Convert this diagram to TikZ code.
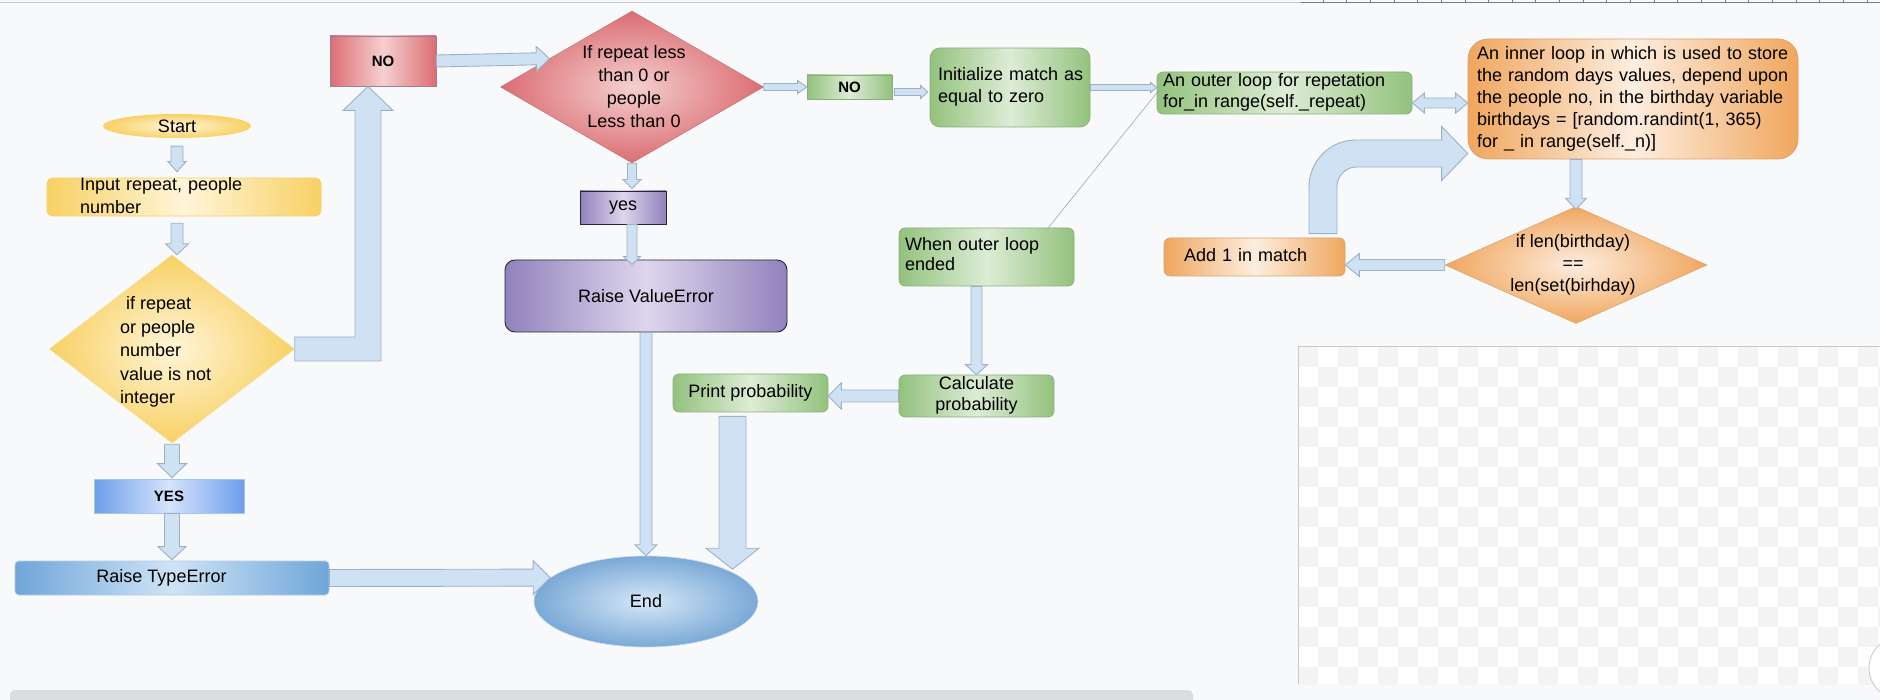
\documentclass[tikz,border=0pt]{standalone}
\usepackage{fontspec}
\setmainfont{Liberation Sans}
\usetikzlibrary{shapes.geometric,calc}
\definecolor{bg}{HTML}{F8F9FB}
\definecolor{afill}{HTML}{CFE2F3}
\definecolor{adraw}{HTML}{9DB1C6}
\definecolor{yEdge}{HTML}{F8D164}
\definecolor{yMid}{HTML}{FFF5D9}
\definecolor{rEdge}{HTML}{DB6E72}
\definecolor{rMid}{HTML}{F5CFD0}
\definecolor{rDraw}{HTML}{9A7F9C}
\definecolor{pEdge}{HTML}{9182BD}
\definecolor{pMid}{HTML}{DED6EC}
\definecolor{pDraw}{HTML}{2A2438}
\definecolor{gEdge}{HTML}{93C27D}
\definecolor{gMid}{HTML}{DDECD6}
\definecolor{gDraw}{HTML}{8BAE7C}
\definecolor{bEdge}{HTML}{6D9EEB}
\definecolor{bMid}{HTML}{D6E4FB}
\definecolor{tEdge}{HTML}{6FA6D9}
\definecolor{tMid}{HTML}{CFE3F5}
\definecolor{eOut}{HTML}{7AA9D6}
\definecolor{eIn}{HTML}{D6E7F7}
\definecolor{oEdge}{HTML}{F0A65E}
\definecolor{oMid}{HTML}{FDEEE0}
\definecolor{oDraw}{HTML}{D9A26E}
\definecolor{checkgray}{HTML}{F4F4F4}
\definecolor{lgray}{HTML}{C9C9CB}
\definecolor{rulergray}{HTML}{7A7A7A}
\definecolor{scrollgray}{HTML}{DBDCDF}
\newcommand{\mylines}[2][22]{{\fontsize{18}{#1}\selectfont\begin{tabular}{@{}l@{}}#2\end{tabular}}}
\newcommand{\mycl}[2][22]{{\fontsize{18}{#1}\selectfont\begin{tabular}{@{}c@{}}#2\end{tabular}}}
\newcommand{\bfnt}{\fontsize{15}{18}\selectfont\bfseries}
\newcommand{\barr}[5]{%
  \coordinate (bA) at (#1);
  \coordinate (bB) at (#2);
  \coordinate (bH) at ($(bB)!#5pt!(bA)$);
  \draw[barrow] ($(bA)!#3pt!90:(bB)$) -- ($(bH)!#3pt!90:(bB)$) -- ($(bH)!#4pt!90:(bB)$) -- (bB) -- ($(bH)!#4pt!-90:(bB)$) -- ($(bH)!#3pt!-90:(bB)$) -- ($(bA)!#3pt!-90:(bB)$) -- cycle;}
\newcommand{\barrd}[5]{%
  \coordinate (bA) at (#1);
  \coordinate (bB) at (#2);
  \coordinate (bH) at ($(bB)!#5pt!(bA)$);
  \coordinate (bG) at ($(bA)!#5pt!(bB)$);
  \draw[barrow] (bA) -- ($(bG)!#4pt!90:(bB)$) -- ($(bG)!#3pt!90:(bB)$) -- ($(bH)!#3pt!90:(bB)$) -- ($(bH)!#4pt!90:(bB)$) -- (bB) -- ($(bH)!#4pt!-90:(bB)$) -- ($(bH)!#3pt!-90:(bB)$) -- ($(bG)!#3pt!-90:(bB)$) -- ($(bG)!#4pt!-90:(bB)$) -- cycle;}
\tikzset{
 base/.style={inner sep=0pt, font=\fontsize{18}{22}\selectfont, text=black},
 ybox/.style={base, rectangle, rounded corners=5, left color=yEdge, right color=yEdge, middle color=yMid, draw=yEdge, line width=0.6},
 rbox/.style={base, rectangle, left color=rEdge, right color=rEdge, middle color=rMid, draw=rDraw, line width=0.9},
 pbox/.style={base, rectangle, left color=pEdge, right color=pEdge, middle color=pMid, draw=pDraw, line width=0.9},
 gbox/.style={base, rectangle, rounded corners=6, left color=gEdge, right color=gEdge, middle color=gMid, draw=gDraw, line width=0.7},
 obox/.style={base, rectangle, rounded corners=6, left color=oEdge, right color=oEdge, middle color=oMid, draw=oDraw, line width=0.7},
 bbox/.style={base, rectangle, left color=bEdge, right color=bEdge, middle color=bMid, draw=bEdge!60!white, line width=0.7},
 tbox/.style={base, rectangle, rounded corners=4, left color=tEdge, right color=tEdge, middle color=tMid, draw=tEdge!55!white, line width=0.7},
 dia/.style={base, diamond},
 ell/.style={base, ellipse},
 ltxt/.style={align=left, inner ysep=-10pt},
 ctxt/.style={align=center, inner ysep=-10pt},
 barrow/.style={fill=afill, draw=adraw, line width=0.9, line join=miter},
 thinline/.style={draw=gray!70, line width=0.6},
}
\begin{document}
\begin{tikzpicture}[x=1pt, y=-1pt]
\useasboundingbox (0,0) rectangle (1880,700);
\fill[bg] (0,0) rectangle (1880,700);
% window chrome
\draw[lgray, line width=1] (0,2.5) -- (1301,2.5);
\draw[rulergray, line width=1] (1301,2.5) -- (1880,2.5);
\foreach \k in {0,...,23} \draw[rulergray, line width=0.8] ({1323+23.65*\k},0) -- ++(0,2.5);
\begin{scope}
\clip (1298,347) rectangle (1880,684);
\fill[white] (1298,347) rectangle (1880,684);
\foreach \i in {0,...,29}{\foreach \j in {0,...,16}{
  \pgfmathtruncatemacro{\pp}{mod(\i+\j,2)}
  \ifnum\pp=0 \fill[checkgray] ({1298+20*\i},{347+20*\j}) rectangle +(20,20); \fi
}}
\end{scope}
\draw[lgray, line width=1] (1298,684) -- (1298,347) -- (1880,347);
\draw[lgray, fill=white, line width=0.8] (1900,668) circle (31);
\fill[scrollgray, rounded corners=5] (10,690) rectangle (1193,712);

% nodes
\node[ell, minimum width=148, minimum height=24, inner color=yMid, outer color=yEdge] (start) at (177,126) {Start};
\node[ybox, ltxt, minimum width=274, minimum height=38, text width=208, inner xsep=33] (input) at (184,197) {\mylines[23]{Input repeat, people\\number}};
\node[dia, minimum width=245, minimum height=188, inner color=yMid, outer color=yEdge, draw=yEdge!80!white, line width=0.5] (ydec) at (172,349) {};
\node[base, anchor=west, align=left] (ydect) at ([xshift=-52,yshift=-3]ydec.center) {\mylines[23.5]{\hspace*{6pt}if repeat\\or people\\number\\value is not\\integer}};
\node[bbox, minimum width=150, minimum height=34] (yesbox) at (169,496) {\bfnt YES};
\node[tbox, minimum width=314, minimum height=34] (typeerr) at (172,578) {\hspace*{-21pt}Raise TypeError};
\node[ell, minimum width=224, minimum height=91, inner color=eIn, outer color=eOut, draw=eOut!45!white, line width=0.6] (end) at (646,601.5) {End};
\node[rbox, minimum width=106, minimum height=50] (nobox) at (383,61) {\bfnt NO};
\node[dia, minimum width=263, minimum height=152, inner color=rMid, outer color=rEdge, draw=rEdge!70!gray, line width=0.5] (rdec) at (632,87) {};
\node[base] (rdect) at ([xshift=2,yshift=-1.5]rdec.center) {\mycl[23]{If repeat less\\than 0 or\\people\\Less than 0}};
\node[pbox, minimum width=86, minimum height=33] (yessmall) at (623,207.5) {yes};
\node[pbox, rounded corners=10, minimum width=282, minimum height=72] (valerr) at (646,296) {Raise ValueError};
\node[gbox, rounded corners=0, minimum width=85, minimum height=24] (nosmall) at (849.5,87) {\bfnt NO};
\node[gbox, ltxt, rounded corners=10, minimum width=160, minimum height=79, text width=144, inner xsep=8] (init) at (1010,87.5) {\mylines{Initialize match as\\equal to zero}};
\node[gbox, ltxt, minimum width=255, minimum height=42, text width=243, inner xsep=6] (outer) at (1284.5,93) {\mylines[21]{An outer loop for repetation\\for\_in range(self.\_repeat)}};
\node[obox, ltxt, rounded corners=20, minimum width=330, minimum height=120, text width=312, inner xsep=9] (inner) at (1633,99) {\mylines{An inner loop in which is used to store\\the random days values, depend upon\\the people no, in the birthday variable\\birthdays = [random.randint(1, 365)\\for \_ in range(self.\_n)]}};
\node[dia, minimum width=262, minimum height=117, inner color=oMid, outer color=oEdge, draw=oDraw, line width=0.5] (odec) at (1576,265) {};
\node[base] (odect) at ([xshift=-3]odec.center) {\mycl{if len(birthday)\\==\\len(set(birhday)}};
\node[obox, ltxt, minimum width=181, minimum height=38, text width=141, inner xsep=20] (add1) at (1254.5,257) {\mylines{Add 1 in match}};
\node[gbox, ltxt, minimum width=175, minimum height=58, text width=163, inner xsep=6] (when) at (986.5,257) {\mylines[20]{When outer loop\\ended}};
\node[gbox, ctxt, minimum width=155, minimum height=42] (calc) at (976.5,396) {\mycl[21]{Calculate\\probability}};
\node[gbox, minimum width=155, minimum height=38] (print) at (750.5,393) {Print probability};

% connectors
\draw[thinline] (outer.west) -- ([xshift=-26]when.north east);
\barr{$(start.south)+(0,8)$}{$(start.south |- input.north)+(0,-6)$}{6}{9}{10}
\barr{$(start.south |- input.south)+(0,7)$}{start.south |- ydec.north}{6}{11.5}{11}
\barr{$(ydec.south)+(0,1)$}{$(ydec.south |- yesbox.north)+(0,-1)$}{7.5}{14.5}{14}
\barr{ydec.south |- yesbox.south}{$(ydec.south |- typeerr.north)+(0,-1)$}{7.5}{14}{13}
\barr{typeerr.east}{end.166.7}{8.5}{17}{17}
% elbow from yellow decision up to NO
\coordinate (k0) at (ydec.east);
\coordinate (k1) at ([xshift=-15]nobox.south);
\draw[barrow] ($(k0)+(0,-12)$) -- ($(k0 -| k1)+(-13,-12)$) -- ($(k1)+(-13,24)$) -- ($(k1)+(-25,24)$) -- (k1) -- ($(k1)+(25,24)$) -- ($(k1)+(13,24)$) -- ($(k0 -| k1)+(13,12)$) -- ($(k0)+(0,12)$) -- cycle;
\barr{nobox.east}{rdec.161}{6}{12.5}{13}
\barr{rdec.south}{$(rdec.south |- yessmall.north)+(0,-2)$}{4.5}{9}{9}
\barr{rdec.south |- yessmall.south}{$(rdec.south |- valerr.north)+(0,5)$}{5}{8.5}{8}
\barr{valerr.south}{end.north}{6}{11}{11}
\coordinate (pe) at ([xshift=-18]print.south);
\barr{$(pe)+(0,4)$}{pe |- end.22}{13.5}{26.5}{21}
\barr{calc.west}{calc.west -| print.east}{6}{13}{13}
\barr{calc.north |- when.south}{calc.north}{5.5}{11}{10}
\barr{rdec.east}{nosmall.west}{3.5}{6.5}{9}
\barr{$(nosmall.east)+(2,5)$}{$(nosmall.east -| init.west)+(-2,5)$}{3.5}{6.5}{7}
\barr{init.east}{init.east -| outer.west}{3}{5}{6}
\barrd{$(outer.east)+(0,10)$}{$(outer.east -| inner.west)+(0,10)$}{5}{10}{12}
\barr{odec.north |- inner.south}{$(odec.north)+(0,3)$}{6}{10.5}{11}
\barr{odec.west}{odec.west -| add1.east}{5.5}{11.5}{14}
% curved arrow from Add 1 back to the inner loop
\coordinate (m0) at ([xshift=68.5,yshift=4]add1.north);
\coordinate (m1) at ([yshift=-54.5]inner.west);
\draw[barrow] ($(m0)+(-14,0)$) -- ($(m0 |- m1)+(-14,33.5)$) .. controls ($(m0 |- m1)+(-14,7.5)$) and ($(m0 |- m1)+(7,-13.5)$) .. ($(m0 |- m1)+(33,-13.5)$) -- ($(m1)+(-26,-13.5)$) -- ($(m1)+(-26,-27)$) -- (m1) -- ($(m1)+(-26,27)$) -- ($(m1)+(-26,13.5)$) -- ($(m0 |- m1)+(33,13.5)$) .. controls ($(m0 |- m1)+(22.5,13.5)$) and ($(m0 |- m1)+(14,23)$) .. ($(m0 |- m1)+(14,32.5)$) -- ($(m0)+(14,0)$) -- cycle;
\end{tikzpicture}
\end{document}
